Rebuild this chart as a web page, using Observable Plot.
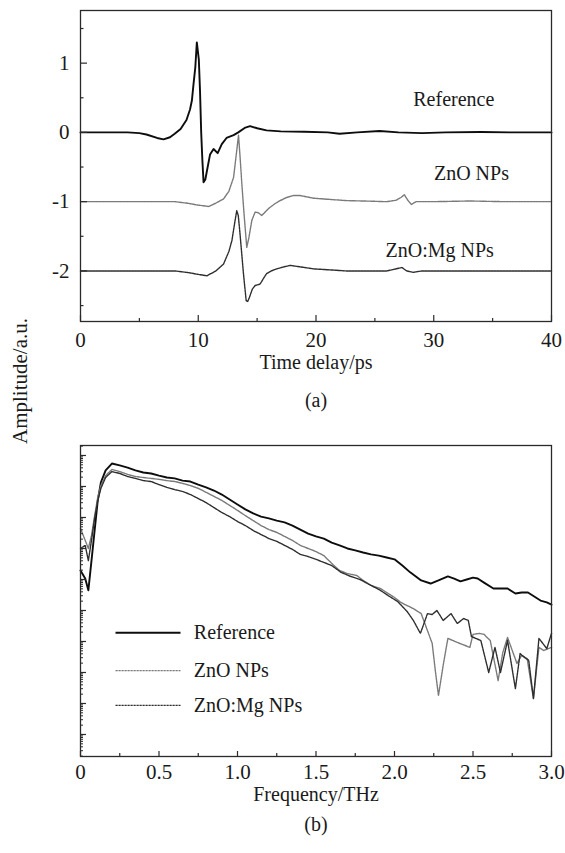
<!DOCTYPE html>
<html><head><meta charset="utf-8">
<script src="https://cdn.jsdelivr.net/npm/d3@7"></script>
<script src="https://cdn.jsdelivr.net/npm/@observablehq/plot@0.6"></script>
<style>
body{margin:0;background:#fff;}
#root{position:relative;width:565px;height:853px;font-family:"Liberation Serif","Times New Roman",serif;color:#1a1a1a;background:#fff;overflow:hidden;}
#root svg{position:absolute;left:0;}
#ylab{position:absolute;left:20px;top:381px;transform:translate(-50%,-50%) rotate(-90deg);font-size:21px;white-space:nowrap;font-family:"Liberation Serif","Times New Roman",serif;}
</style></head><body><div id="root"><div id="ylab">Amplitude/a.u.</div></div>
<script>
// ---------- DATA ----------
const seriesNames = ["Reference", "ZnO NPs", "ZnO:Mg NPs"];

// (a) time-domain pulses: [time delay (ps), amplitude (a.u., offset)]
const refPulse = [[0,0],[2,0],[4,0],[5,-0.01],[5.6,-0.03],[6.5,-0.08],[7.05,-0.1],[7.6,-0.07],[8.0,-0.02],[8.5,0.05],[9.0,0.18],[9.3,0.33],[9.46,0.46],[9.6,0.7],[9.75,0.94],[9.88,1.3],[10.05,1.05],[10.15,0.6],[10.25,0.0],[10.35,-0.4],[10.45,-0.72],[10.6,-0.68],[10.8,-0.5],[11.0,-0.32],[11.3,-0.24],[11.65,-0.3],[12.0,-0.17],[12.4,-0.08],[13.0,-0.04],[13.4,0.0],[14.0,0.07],[14.4,0.09],[15.0,0.06],[15.8,0.03],[17,0.015],[19,0.01],[21,0],[22,-0.02],[23.5,0],[25.4,0.02],[27,0],[29,-0.01],[31,0],[34,0.005],[37,0],[40,0]];
const znoPulse = [[0,-1],[4,-1],[8,-1],[9,-1.02],[10,-1.05],[10.9,-1.07],[11.5,-1.02],[12.15,-0.96],[12.6,-0.85],[13.0,-0.65],[13.27,-0.26],[13.42,-0.04],[13.55,-0.35],[13.7,-0.74],[13.9,-1.2],[14.12,-1.66],[14.3,-1.52],[14.55,-1.27],[14.83,-1.15],[15.1,-1.16],[15.4,-1.2],[15.96,-1.1],[16.5,-1.03],[16.95,-0.985],[17.5,-0.94],[18.1,-0.91],[18.6,-0.91],[19.8,-0.95],[21,-0.965],[22.6,-0.985],[24,-0.99],[26,-1.0],[26.8,-0.98],[27.2,-0.94],[27.5,-0.9],[27.8,-0.98],[28.1,-1.04],[28.5,-1.0],[30,-1.0],[33,-0.99],[36,-1.0],[40,-1.0]];
const mgPulse = [[0,-2],[4,-2],[8,-2],[9,-2.02],[10,-2.05],[10.73,-2.07],[11.5,-2.0],[12.15,-1.9],[12.6,-1.72],[12.86,-1.56],[13.1,-1.3],[13.27,-1.13],[13.4,-1.2],[13.55,-1.47],[13.84,-2.04],[14.07,-2.43],[14.2,-2.44],[14.35,-2.38],[14.6,-2.26],[14.83,-2.21],[15.25,-2.19],[15.5,-2.12],[15.8,-2.04],[16.2,-2.0],[16.67,-1.97],[17.3,-1.94],[17.8,-1.92],[18.6,-1.94],[19.8,-1.97],[22.6,-2.0],[26,-2.0],[26.8,-1.97],[27.3,-1.95],[27.7,-2.0],[28.25,-2.02],[29,-2.0],[33,-2.0],[40,-2.0]];

// (b) spectra: [frequency (THz), log10 amplitude (a.u.)]
const refSpec = [[0,-3.71],[0.03,-3.97],[0.05,-4.35],[0.07,-3.39],[0.09,-2.42],[0.11,-1.45],[0.13,-0.87],[0.16,-0.48],[0.20,-0.26],[0.25,-0.32],[0.30,-0.39],[0.35,-0.48],[0.40,-0.55],[0.45,-0.58],[0.50,-0.65],[0.55,-0.71],[0.60,-0.74],[0.65,-0.81],[0.70,-0.84],[0.75,-0.94],[0.80,-1.03],[0.85,-1.13],[0.90,-1.26],[0.95,-1.42],[1.00,-1.58],[1.05,-1.74],[1.10,-1.87],[1.15,-1.97],[1.20,-2.03],[1.25,-2.10],[1.30,-2.16],[1.35,-2.26],[1.40,-2.39],[1.45,-2.52],[1.50,-2.61],[1.55,-2.68],[1.60,-2.81],[1.65,-2.90],[1.70,-3.00],[1.75,-3.06],[1.80,-3.13],[1.85,-3.19],[1.90,-3.23],[1.95,-3.29],[2.00,-3.35],[2.05,-3.55],[2.10,-3.77],[2.17,-4.03],[2.23,-4.13],[2.28,-4.03],[2.34,-3.90],[2.38,-3.97],[2.42,-4.06],[2.46,-4.00],[2.50,-3.94],[2.53,-3.97],[2.57,-4.10],[2.63,-4.29],[2.68,-4.29],[2.72,-4.29],[2.77,-4.45],[2.81,-4.42],[2.85,-4.42],[2.89,-4.55],[2.93,-4.68],[2.97,-4.74],[3.00,-4.81]];
const znoSpec = [[0,-2.35],[0.03,-2.74],[0.05,-3.0],[0.07,-2.58],[0.09,-1.94],[0.11,-1.35],[0.13,-0.97],[0.16,-0.65],[0.20,-0.45],[0.25,-0.52],[0.30,-0.61],[0.35,-0.68],[0.40,-0.71],[0.45,-0.74],[0.50,-0.77],[0.55,-0.81],[0.60,-0.84],[0.65,-0.90],[0.70,-0.97],[0.75,-1.06],[0.80,-1.19],[0.85,-1.32],[0.90,-1.45],[0.95,-1.61],[1.00,-1.77],[1.05,-1.94],[1.10,-2.10],[1.15,-2.26],[1.20,-2.39],[1.25,-2.48],[1.30,-2.61],[1.35,-2.74],[1.40,-2.90],[1.45,-3.00],[1.50,-3.10],[1.55,-3.23],[1.60,-3.48],[1.65,-3.71],[1.70,-3.81],[1.76,-3.87],[1.80,-4.03],[1.85,-4.19],[1.91,-4.29],[1.95,-4.42],[2.00,-4.58],[2.04,-4.74],[2.08,-4.84],[2.12,-4.94],[2.17,-5.10],[2.21,-5.65],[2.24,-6.06],[2.26,-6.94],[2.28,-7.74],[2.31,-6.77],[2.34,-5.90],[2.40,-6.03],[2.45,-6.13],[2.48,-6.19],[2.50,-5.77],[2.54,-5.74],[2.57,-5.77],[2.61,-5.97],[2.66,-7.26],[2.69,-6.35],[2.72,-5.87],[2.75,-6.29],[2.78,-6.71],[2.81,-6.45],[2.845,-6.55],[2.885,-7.84],[2.92,-6.19],[2.95,-6.29],[2.98,-6.23],[3.00,-6.19]];
const mgSpec = [[0,-3.0],[0.03,-2.9],[0.05,-3.39],[0.07,-2.74],[0.09,-2.03],[0.11,-1.45],[0.13,-1.06],[0.16,-0.71],[0.20,-0.52],[0.25,-0.58],[0.30,-0.68],[0.35,-0.74],[0.40,-0.81],[0.45,-0.84],[0.50,-0.94],[0.55,-1.03],[0.60,-1.10],[0.65,-1.16],[0.70,-1.26],[0.75,-1.39],[0.80,-1.52],[0.85,-1.68],[0.90,-1.84],[0.95,-1.97],[1.00,-2.13],[1.05,-2.26],[1.10,-2.42],[1.15,-2.55],[1.20,-2.68],[1.25,-2.77],[1.30,-2.90],[1.35,-3.03],[1.40,-3.19],[1.45,-3.26],[1.50,-3.35],[1.55,-3.45],[1.60,-3.55],[1.66,-3.77],[1.72,-3.90],[1.78,-4.00],[1.85,-4.19],[1.91,-4.35],[1.96,-4.52],[2.02,-4.71],[2.08,-5.03],[2.12,-5.32],[2.165,-5.74],[2.21,-5.10],[2.24,-5.13],[2.27,-5.00],[2.31,-5.32],[2.36,-5.10],[2.40,-5.42],[2.44,-5.26],[2.47,-5.32],[2.49,-5.84],[2.55,-5.97],[2.60,-7.00],[2.64,-6.19],[2.675,-7.00],[2.72,-5.97],[2.77,-7.52],[2.80,-6.39],[2.83,-6.52],[2.855,-6.61],[2.885,-7.84],[2.92,-5.90],[2.97,-6.23],[3.00,-5.74]];

// ticks
const timeMajor = [0, 10, 20, 30, 40];
const timeMinor = [5, 15, 25, 35];
const ampMajor = [-2, -1, 0, 1];
const ampMinor = [-2.5, -1.5, -0.5, 0.5, 1.5];
const freqMajor = [0, 0.5, 1.0, 1.5, 2.0, 2.5, 3.0];
const freqMinor = [0.25, 0.75, 1.25, 1.75, 2.25, 2.75];
const decadeExps = [0, -1, -2, -3, -4, -5, -6, -7, -8, -9];

// ---------- LAYOUT / STYLE ----------
const W = 565, ML = 80, MR = 14;
const innerW = W - ML - MR;
const lineStyle = {
  "Reference":  {stroke: "#0d0d0d", strokeWidth: 1.9},
  "ZnO NPs":    {stroke: "#7a7a7a", strokeWidth: 1.4, strokeDasharray: "2.2,0.8"},
  "ZnO:Mg NPs": {stroke: "#2e2e2e", strokeWidth: 1.4, strokeDasharray: "2.2,0.8"}
};
const font = '"Liberation Serif", "Times New Roman", serif';
const txt = {fontFamily: font, fill: "#1a1a1a"};
const axisColor = "#2a2a2a";

const pulses = [refPulse, znoPulse, mgPulse];
const spectra = [refSpec, znoSpec, mgSpec];

// ---------- PANEL (a) ----------
const HA = 425, MTA = 10, MBA = 104;
const innerHA = HA - MTA - MBA;
const labelPosA = [[31.7, 0.47], [33.2, -0.6], [30.5, -1.71]];

const plotA = Plot.plot({
  width: W, height: HA,
  marginLeft: ML, marginRight: MR, marginTop: MTA, marginBottom: MBA,
  style: {fontFamily: font, fontSize: "20px", color: "#1a1a1a", background: "transparent"},
  x: {domain: [0, 40]},
  y: {domain: [-2.73, 1.76]},
  marks: [
    ...seriesNames.map((s, i) => Plot.line(pulses[i], {x: d => d[0], y: d => d[1], ...lineStyle[s]})),
    Plot.text(seriesNames, {x: (d, i) => labelPosA[i][0], y: (d, i) => labelPosA[i][1], text: d => d, fontSize: 20, ...txt}),
    Plot.tickX(timeMajor, {x: d => d, insetTop: innerHA - 6, stroke: axisColor, strokeWidth: 1.2}),
    Plot.tickX(timeMinor, {x: d => d, insetTop: innerHA - 3, stroke: axisColor, strokeWidth: 1.2}),
    Plot.tickY(ampMajor, {y: d => d, insetRight: innerW - 7, stroke: axisColor, strokeWidth: 1.2}),
    Plot.tickY(ampMinor, {y: d => d, insetRight: innerW - 3.5, stroke: axisColor, strokeWidth: 1.2}),
    Plot.axisX(timeMajor, {tickSize: 0, tickPadding: 11, label: null, tickFormat: d => String(d), fontSize: 21, ...txt}),
    Plot.axisY(ampMajor, {tickSize: 0, tickPadding: 11, label: null, tickFormat: d => String(d), fontSize: 21, ...txt}),
    Plot.text(["Time delay/ps"], {frameAnchor: "bottom", dy: 47, fontSize: 20, ...txt}),
    Plot.text(["(a)"], {frameAnchor: "bottom", dy: 85, fontSize: 20, ...txt}),
    Plot.frame({stroke: axisColor, strokeWidth: 1.3})
  ]
});
plotA.style.top = "0px";

// ---------- PANEL (b) ----------
const HB = 428, MTB = 20, MBB = 97;
const innerHB = HB - MTB - MBB;
const decadeMajor = decadeExps.map(e => 10 ** e);
const decadeMinor = [];
for (let e = -10; e <= 0; e++) for (let k = 2; k <= 9; k++) {
  const v = k * 10 ** e;
  if (Math.log10(v) > -9.71 && Math.log10(v) < 0.322) decadeMinor.push(v);
}
const legendY = [-5.72, -6.94, -8.06];
const legendX = [0.223, 0.637, 0.722];

const plotB = Plot.plot({
  width: W, height: HB,
  marginLeft: ML, marginRight: MR, marginTop: MTB, marginBottom: MBB,
  style: {fontFamily: font, fontSize: "20px", color: "#1a1a1a", background: "transparent"},
  x: {domain: [0, 3]},
  y: {type: "log", domain: [10 ** -9.71, 10 ** 0.322], axis: null},
  marks: [
    ...seriesNames.map((s, i) => Plot.line(spectra[i], {x: d => d[0], y: d => 10 ** d[1], ...lineStyle[s]})),
    ...seriesNames.map((s, i) => Plot.link([s], {x1: legendX[0], x2: legendX[1], y1: 10 ** legendY[i], y2: 10 ** legendY[i], ...lineStyle[s]})),
    Plot.text(seriesNames, {x: legendX[2], y: (d, i) => 10 ** legendY[i], text: d => d, textAnchor: "start", fontSize: 20, ...txt}),
    Plot.tickX(freqMajor, {x: d => d, insetTop: innerHB - 5, stroke: axisColor, strokeWidth: 1.2}),
    Plot.tickX(freqMinor, {x: d => d, insetTop: innerHB - 3, stroke: axisColor, strokeWidth: 1.2}),
    Plot.tickY(decadeMajor, {y: d => d, insetRight: innerW - 6, stroke: axisColor, strokeWidth: 1.2}),
    Plot.tickY(decadeMinor, {y: d => d, insetRight: innerW - 3, stroke: axisColor, strokeWidth: 1}),
    Plot.axisX(freqMajor, {tickSize: 0, tickPadding: 8, label: null, tickFormat: d => d === 0 ? "0" : d.toFixed(1), fontSize: 21, ...txt}),
    Plot.text(["Frequency/THz"], {frameAnchor: "bottom", dy: 44, fontSize: 20, ...txt}),
    Plot.text(["(b)"], {frameAnchor: "bottom", dy: 74, fontSize: 20, ...txt}),
    Plot.frame({stroke: axisColor, strokeWidth: 1.3})
  ]
});
plotB.style.top = "425px";

const root = document.getElementById("root");
root.appendChild(plotA);
root.appendChild(plotB);
</script></body></html>
